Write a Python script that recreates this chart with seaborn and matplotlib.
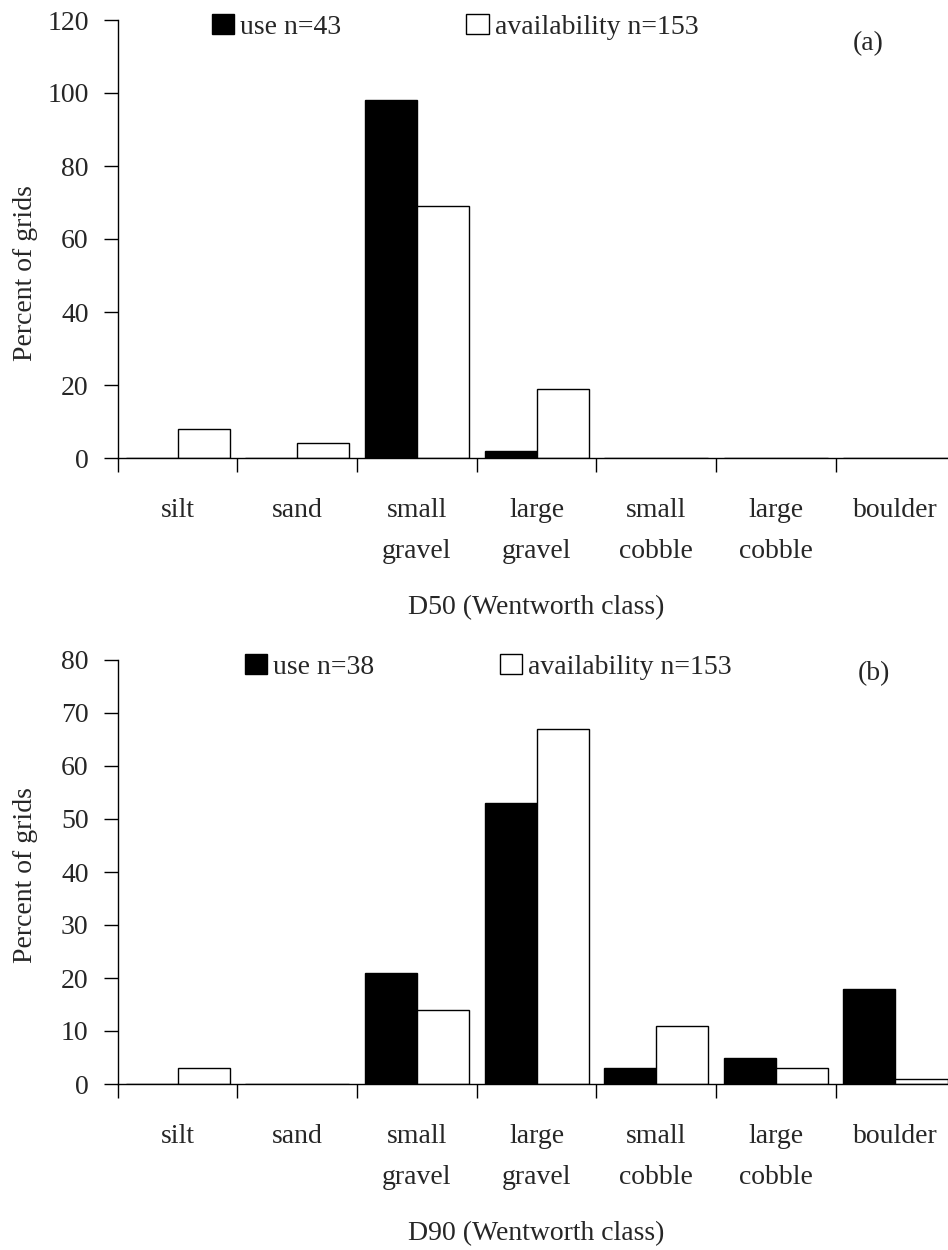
import numpy as np
import pandas as pd
import matplotlib
matplotlib.use("Agg")
import matplotlib.pyplot as plt
from matplotlib.patches import Patch
import seaborn as sns

# Wentworth size classes
classes = ["silt", "sand", "small\ngravel", "large\ngravel",
           "small\ncobble", "large\ncobble", "boulder"]

# Percent of grids per class, D50
d50_use = [0, 0, 98, 2, 0, 0, 0]
d50_avail = [8, 4, 69, 19, 0, 0, 0]

# Percent of grids per class, D90
d90_use = [0, 0, 21, 53, 3, 5, 18]
d90_avail = [3, 0, 14, 67, 11, 3, 1]

d50_labels = ["use n=43", "availability n=153"]
d90_labels = ["use n=38", "availability n=153"]

sns.set_style("ticks")
plt.rcParams["font.family"] = ["Liberation Serif", "DejaVu Serif"]
plt.rcParams["axes.linewidth"] = 1.0

FS = 20

fig = plt.figure(figsize=(9.48, 12.5), dpi=100)
W, H = 948.0, 1250.0
ax_left = 117.8 / W
ax_width = 837.5 / W
ax_top = fig.add_axes([ax_left, 1 - 458 / H, ax_width, 438 / H])
ax_bot = fig.add_axes([ax_left, 1 - 1084 / H, ax_width, 424 / H])


def long_frame(use, avail):
    return pd.DataFrame({
        "cls": list(range(len(classes))) * 2,
        "pct": list(use) + list(avail),
        "series": ["use"] * len(use) + ["availability"] * len(avail),
    })


def draw_panel(ax, use, avail, ymax, ystep, xlabel, xlab_y, leg_labels,
               leg_pos, tag, tag_pos, ylab_y):
    df = long_frame(use, avail)
    sns.barplot(data=df, x="cls", y="pct", hue="series",
                hue_order=["use", "availability"],
                palette={"use": "black", "availability": "white"},
                edgecolor="black", linewidth=1.0, width=0.87,
                legend=False, ax=ax)
    ax.set_xlim(-0.5, len(classes) - 0.5)
    ax.set_ylim(0, ymax)
    yt = np.arange(0, ymax + ystep / 2, ystep)
    ax.set_yticks(yt)
    ax.set_yticklabels([f"{int(v)}" for v in yt], fontsize=FS)
    ax.set_xticks(range(len(classes)))
    ax.set_xticklabels(classes, fontsize=FS, linespacing=1.85)
    ax.set_xticks(np.arange(-0.5, len(classes) + 0.5, 1), minor=True)
    ax.tick_params(axis="x", which="major", length=0, pad=29)
    ax.tick_params(axis="x", which="minor", length=10, width=1.0,
                   direction="out", color="black")
    ax.tick_params(axis="y", which="major", length=10, width=1.0,
                   direction="out", pad=11, color="black")
    for s in ("top", "right"):
        ax.spines[s].set_visible(False)
    for s in ("left", "bottom"):
        ax.spines[s].set_color("black")
        ax.spines[s].set_linewidth(1.0)

    ax.set_xlabel(xlabel, fontsize=FS)
    ax.xaxis.label.set_va("center")
    ax.xaxis.set_label_coords(0.5, xlab_y)
    ax.set_ylabel("Percent of grids", fontsize=FS)
    ax.yaxis.label.set_va("center")
    ax.yaxis.set_label_coords(-0.1108, ylab_y)

    handles = [Patch(facecolor="black", edgecolor="black", linewidth=1.0),
               Patch(facecolor="white", edgecolor="black", linewidth=1.0)]
    ax.legend(handles, leg_labels, ncol=2, loc="center left",
              bbox_to_anchor=leg_pos, frameon=False, fontsize=FS,
              handlelength=0.8, handleheight=0.72, handletextpad=0.22,
              columnspacing=4.5, borderpad=0, borderaxespad=0)
    ax.text(tag_pos[0], tag_pos[1], tag, transform=ax.transAxes,
            ha="center", va="center", fontsize=FS)


draw_panel(ax_top, d50_use, d50_avail, 120, 20, "D50 (Wentworth class)",
           (458 - 608) / 438, d50_labels, (0.1125, 0.984), "(a)",
           (0.896, 0.947), 0.4224)
draw_panel(ax_bot, d90_use, d90_avail, 80, 10, "D90 (Wentworth class)",
           (1084 - 1234) / 424, d90_labels, (0.152, 0.983), "(b)",
           (0.903, 0.969), 0.493)

fig.savefig("out.png", dpi=100, facecolor="white")
